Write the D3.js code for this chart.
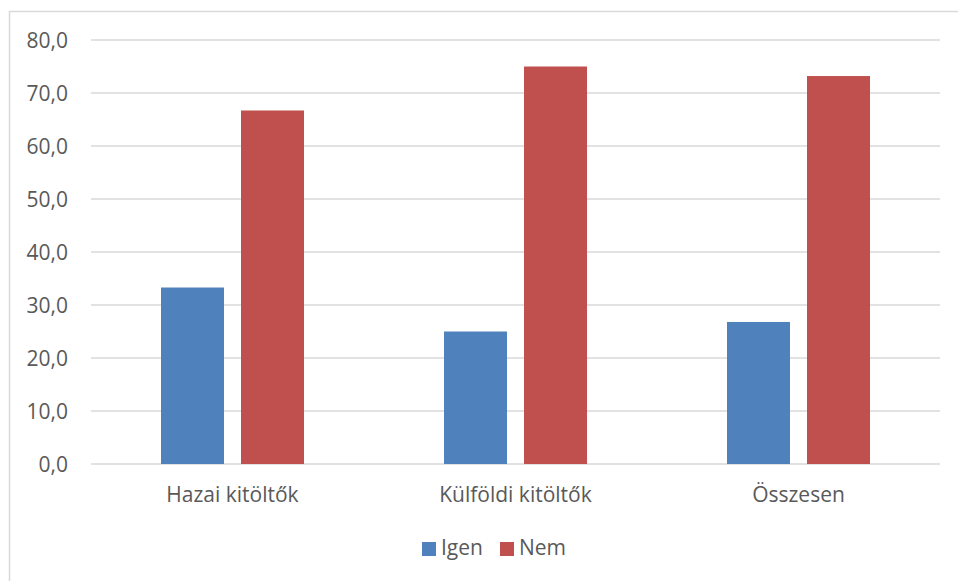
<!DOCTYPE html>
<html>
<head>
<meta charset="utf-8">
<script src="https://cdn.jsdelivr.net/npm/d3@7"></script>
<style>
  html, body { margin: 0; padding: 0; background: #fff; }
  svg { display: block; }
  text { font-family: "Open Sans", sans-serif; fill: #595959; }
</style>
</head>
<body>
<svg id="chart" width="958" height="581"></svg>
<script>
const categories = ["Hazai kitöltők", "Külföldi kitöltők", "Összesen"];
const seriesNames = ["Igen", "Nem"];
const igenValues = [33.3, 25.0, 26.8];
const nemValues = [66.7, 75.0, 73.2];
const yTicks = [0, 10, 20, 30, 40, 50, 60, 70, 80];
const seriesColors = ["#4F81BD", "#C0504D"];

const values = [igenValues, nemValues];
const svg = d3.select("#chart");

// chart border
svg.append("rect")
  .attr("x", 9.5).attr("y", 11.5)
  .attr("width", 980).attr("height", 600)
  .attr("fill", "none").attr("stroke", "#d9d9d9").attr("stroke-width", 1.5);

const plotLeft = 91, plotRight = 940;
const y = d3.scaleLinear().domain([0, 80]).range([464, 40]);
const x0 = d3.scaleBand().domain(categories).range([plotLeft, plotRight]).padding(0);
const x1 = d3.scaleBand().domain(seriesNames).range([0, x0.bandwidth()])
  .paddingInner(0.2125).paddingOuter(0.875);

const locale = d3.formatLocale({ decimal: ",", thousands: " ", grouping: [3], currency: ["", ""] });
const fmt = locale.format(".1f");

// gridlines
svg.append("g").selectAll("line").data(yTicks).join("line")
  .attr("x1", plotLeft).attr("x2", plotRight)
  .attr("y1", d => y(d)).attr("y2", d => y(d))
  .attr("stroke", "#d9d9d9").attr("stroke-width", 1.5);

// y tick labels
svg.append("g").selectAll("text").data(yTicks).join("text")
  .attr("x", 68).attr("y", d => y(d))
  .attr("dy", "0.36em")
  .attr("text-anchor", "end")
  .style("font-size", "21px")
  .text(d => fmt(d));

// bars
const groups = svg.append("g").selectAll("g").data(categories).join("g")
  .attr("transform", d => `translate(${x0(d)},0)`);
groups.selectAll("rect")
  .data((c, i) => seriesNames.map((s, j) => ({ s, v: values[j][i], j })))
  .join("rect")
  .attr("x", d => x1(d.s))
  .attr("width", x1.bandwidth())
  .attr("y", d => y(d.v))
  .attr("height", d => y(0) - y(d.v))
  .attr("fill", d => seriesColors[d.j]);

// category labels
svg.append("g").selectAll("text").data(categories).join("text")
  .attr("x", d => x0(d) + x0.bandwidth() / 2)
  .attr("y", 502)
  .attr("text-anchor", "middle")
  .style("font-size", "21px")
  .text(d => d);

// legend
const legendItems = [
  { name: seriesNames[0], color: seriesColors[0], x: 422 },
  { name: seriesNames[1], color: seriesColors[1], x: 500 }
];
const lg = svg.append("g").selectAll("g").data(legendItems).join("g")
  .attr("transform", d => `translate(${d.x},0)`);
lg.append("rect").attr("x", 0).attr("y", 542).attr("width", 14).attr("height", 14)
  .attr("fill", d => d.color);
lg.append("text").attr("x", 19).attr("y", 555)
  .style("font-size", "21px")
  .text(d => d.name);
</script>
</body>
</html>
